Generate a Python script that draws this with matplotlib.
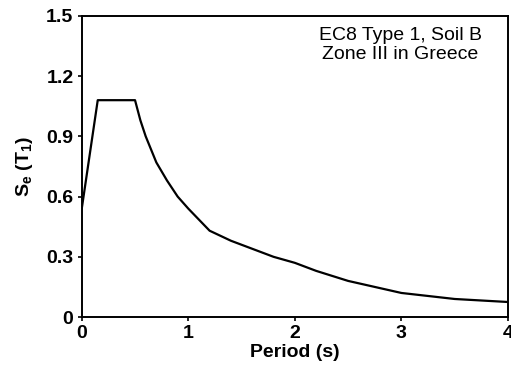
import matplotlib
matplotlib.use("Agg")
import matplotlib.pyplot as plt

# EC8 spectrum
period = [0, 0.15, 0.5, 0.55, 0.6, 0.7, 0.8, 0.9, 1.0, 1.2, 1.4, 1.6, 1.8, 2.0, 2.2, 2.5, 3.0, 3.5, 4.0]
se = [0.54, 1.08, 1.08, 0.98, 0.90, 0.77, 0.68, 0.60, 0.54, 0.43, 0.38, 0.34, 0.30, 0.27, 0.23, 0.18, 0.12, 0.09, 0.075]

xticks = [0, 1, 2, 3, 4]
yticks = [0, 0.3, 0.6, 0.9, 1.2, 1.5]
ytick_labels = ["0", "0.3", "0.6", "0.9", "1.2", "1.5"]

plt.rcParams["font.family"] = ["Liberation Sans", "DejaVu Sans"]
plt.rcParams["mathtext.fontset"] = "custom"
plt.rcParams["mathtext.rm"] = "Liberation Sans:bold"
plt.rcParams["mathtext.default"] = "rm"

fig = plt.figure(figsize=(5.11, 3.77), dpi=100)
ax = fig.add_axes([0.160, 0.159, 0.834, 0.799])

ax.plot(period, se, color="black", lw=1.6)

ax.set_xlim(0, 4)
ax.set_ylim(0, 1.5)
ax.set_xticks(xticks)
ax.set_yticks(yticks)
ax.set_yticklabels(ytick_labels)
for lab in ax.get_xticklabels() + ax.get_yticklabels():
    lab.set_fontweight("bold")
    lab.set_fontsize(14)
ax.tick_params(direction="out", length=3, width=1.2, pad=3)
for s in ax.spines.values():
    s.set_linewidth(1.4)

ax.set_xlabel("Period (s)", fontsize=14, fontweight="bold", labelpad=1)
ax.set_ylabel(r"S$_{e}$ (T$_{1}$)", fontsize=14, fontweight="bold", labelpad=8)

ax.text(2.99, 1.445, "EC8 Type 1, Soil B\nZone III in Greece", ha="center", va="top",
        fontsize=14, linespacing=1.2)

fig.savefig("out.png", dpi=100)
